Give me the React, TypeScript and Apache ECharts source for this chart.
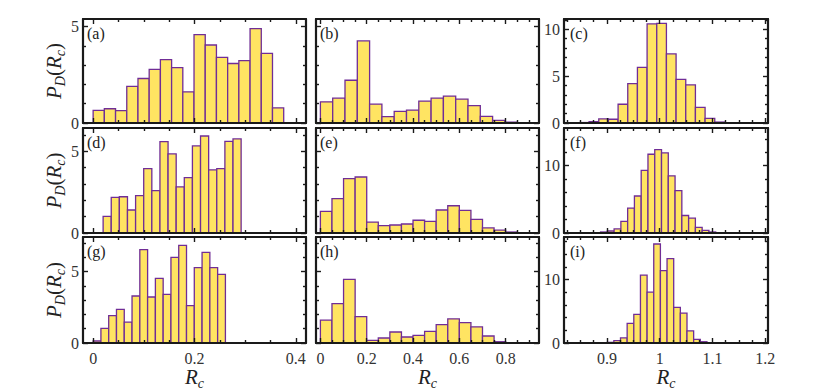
import React, { useEffect, useRef } from 'react';
import * as echarts from 'echarts';

// ---- data (bar heights), bin ranges [first edge, last edge]
const valsA = [0.66, 0.74, 0.64, 1.9, 2.31, 2.78, 3.29, 2.88, 1.62, 4.59, 4.05, 3.41, 3.09, 3.24, 4.9, 3.62, 0.79];
const rangeA = [0, 0.376];
const valsB = [1.1, 1.29, 2.22, 4.26, 0.98, 0.33, 0.6, 0.67, 1.14, 1.29, 1.4, 1.24, 0.9, 0.34, 0.14, 0.04, 0.01];
const rangeB = [0, 0.903];
const valsC = [0.05, 0.15, 0.43, 0.4, 2.0, 4.2, 5.94, 10.57, 10.64, 7.37, 4.66, 4.06, 1.67, 0.5, 0.1];
const rangeC = [0.848, 1.1225];
const valsD = [1.02, 2.18, 2.22, 1.41, 2.29, 3.94, 2.59, 5.59, 4.84, 2.82, 3.39, 5.33, 5.94, 3.86, 3.94, 5.61, 5.76];
const rangeD = [0.0197, 0.292];
const valsE = [1.33, 2.1, 3.33, 3.43, 0.67, 0.45, 0.49, 0.55, 0.78, 0.71, 1.41, 1.67, 1.39, 0.84, 0.31, 0.18, 0.06];
const rangeE = [0, 0.85];
const valsF = [0.15, 0.3, 0.6, 1.73, 3.7, 5.5, 9.3, 11.7, 12.4, 11.9, 8.5, 6.3, 2.6, 2.2, 0.84, 0.4, 0.15];
const rangeF = [0.888, 1.106];
const valsG = [0.14, 1.03, 1.92, 2.35, 1.46, 3.29, 6.53, 3.22, 4.53, 3.4, 5.99, 6.83, 2.61, 5.28, 6.34, 5.28, 4.81];
const rangeG = [0, 0.261];
const valsH = [1.6, 2.75, 4.46, 1.85, 0.19, 0.35, 0.77, 0.42, 0.54, 0.82, 1.29, 1.69, 1.43, 1.13, 0.49, 0.09, 0.02];
const rangeH = [0, 0.85];
const valsI = [0.05, 0.1, 0.37, 0.8, 3.1, 4.5, 10.7, 8.0, 15.6, 11.4, 13.3, 5.6, 4.7, 1.9, 0.58, 0.2, 0.05];
const rangeI = [0.888, 1.102];

const panelLabels = ['(a)', '(b)', '(c)', '(d)', '(e)', '(f)', '(g)', '(h)', '(i)'];

// axis extents
const xExtents = [[-0.02, 0.42], [-0.019, 0.944], [0.8188, 1.205]];
const yMaxRows = [[5.4, 5.4, 11.1], [6.43, 6.43, 15.6], [7.42, 7.42, 16.7]];

// tick values
const xMajor = [[0, 0.2, 0.4], [0, 0.2, 0.4, 0.6, 0.8], [0.9, 1, 1.1, 1.2]];
const xMinor = [
  [0.05, 0.1, 0.15, 0.25, 0.3, 0.35],
  [0.05, 0.1, 0.15, 0.25, 0.3, 0.35, 0.45, 0.5, 0.55, 0.65, 0.7, 0.75, 0.85, 0.9],
  [0.825, 0.85, 0.875, 0.925, 0.95, 0.975, 1.025, 1.05, 1.075, 1.125, 1.15, 1.175],
];
const yMajor = [
  [[0, 5], [0, 5], [0, 5, 10]],
  [[0, 5], [0, 5], [0, 10]],
  [[0, 5], [0, 5], [0, 10]],
];
const yMinor = [
  [[1, 2, 3, 4], [1, 2, 3, 4], [1, 2, 3, 4, 6, 7, 8, 9, 11]],
  [[1, 2, 3, 4, 6], [1, 2, 3, 4, 6], [2, 4, 6, 8, 12, 14]],
  [[1, 2, 3, 4, 6, 7], [1, 2, 3, 4, 6, 7], [2, 4, 6, 8, 12, 14, 16]],
];

const allVals = [valsA, valsB, valsC, valsD, valsE, valsF, valsG, valsH, valsI];
const allRanges = [rangeA, rangeB, rangeC, rangeD, rangeE, rangeF, rangeG, rangeH, rangeI];

// layout
const colBoxes = [{ left: 83, width: 223 }, { left: 316, width: 223 }, { left: 564, width: 204 }];
const rowBoxes = [{ top: 19, height: 104 }, { top: 128, height: 105 }, { top: 237, height: 106 }];

const FONT = 'Liberation Serif, DejaVu Serif, serif';
const FRAME = '#1a1a1a';
const FILL = '#FFE462';
const EDGE = '#702D96';

function fmt(v: number) {
  return String(parseFloat(Number(v).toFixed(3)));
}

function buildOption() {
  const grid: any[] = [];
  const xAxis: any[] = [];
  const yAxis: any[] = [];
  const series: any[] = [];
  const graphic: any[] = [];

  const rich = {
    i: { fontFamily: FONT, fontStyle: 'italic', fontSize: 21, color: '#222', lineHeight: 26, verticalAlign: 'middle' },
    n: { fontFamily: FONT, fontSize: 21, color: '#222', lineHeight: 26, verticalAlign: 'middle' },
    s: { fontFamily: FONT, fontStyle: 'italic', fontSize: 14, color: '#222', lineHeight: 14, verticalAlign: 'bottom' },
  };

  for (let r = 0; r < 3; r++) {
    for (let c = 0; c < 3; c++) {
      const g = r * 3 + c;
      grid.push({
        left: colBoxes[c].left,
        width: colBoxes[c].width,
        top: rowBoxes[r].top,
        height: rowBoxes[r].height,
        containLabel: false,
        outerBoundsMode: 'none',
        show: false,
      });
      const [xmin, xmax] = xExtents[c];
      const ymax = yMaxRows[r][c];
      const xBase = xAxis.length;
      const yBase = yAxis.length;
      const mkX = (pos: string, major: boolean) => {
        const isLabelAxis = major && pos === 'bottom' && r === 2;
        return {
          gridIndex: g,
          type: 'value',
          min: xmin,
          max: xmax,
          position: pos,
          z: 10,
          splitLine: { show: false },
          axisLine: { show: major, onZero: false, lineStyle: { color: FRAME, width: 2.2 } },
          axisTick: {
            show: true,
            inside: true,
            length: major ? 5 : 3,
            customValues: major ? xMajor[c] : xMinor[c],
            lineStyle: { color: FRAME, width: 1.4 },
          },
          axisLabel: {
            show: isLabelAxis,
            customValues: xMajor[c],
            formatter: (v: number) => fmt(v),
            fontFamily: FONT,
            fontSize: 16,
            color: '#333',
            margin: 7,
          },
          name: isLabelAxis ? '{i|R}{s|c}' : '',
          nameLocation: 'middle',
          nameGap: 14,
          nameTextStyle: { rich },
        };
      };
      xAxis.push(mkX('bottom', true), mkX('bottom', false), mkX('top', true), mkX('top', false));
      const mkY = (pos: string, major: boolean) => {
        const isLabelAxis = major && pos === 'left' && c !== 1;
        const isNameAxis = major && pos === 'left' && c === 0;
        return {
          gridIndex: g,
          type: 'value',
          min: 0,
          max: ymax,
          position: pos,
          z: 10,
          splitLine: { show: false },
          axisLine: { show: major, onZero: false, lineStyle: { color: FRAME, width: 2.2 } },
          axisTick: {
            show: true,
            inside: true,
            length: major ? 5 : 3,
            customValues: major ? yMajor[r][c] : yMinor[r][c],
            lineStyle: { color: FRAME, width: 1.4 },
          },
          axisLabel: {
            show: isLabelAxis,
            customValues: yMajor[r][c],
            formatter: (v: number) => fmt(v),
            fontFamily: FONT,
            fontSize: 16,
            color: '#333',
            margin: 4,
          },
          name: isNameAxis ? '{i|P}{s|D}{n|(}{i|R}{s|c}{n|)}' : '',
          nameLocation: 'middle',
          nameGap: 16,
          nameRotate: 90,
          nameTextStyle: { rich },
        };
      };
      yAxis.push(mkY('left', true), mkY('left', false), mkY('right', true), mkY('right', false));

      const vals = allVals[g];
      const [e0, e1] = allRanges[g];
      const w = (e1 - e0) / vals.length;
      const data = vals.map((v, i) => [e0 + i * w, e0 + (i + 1) * w, v]);
      series.push({
        type: 'custom',
        xAxisIndex: xBase,
        yAxisIndex: yBase,
        data,
        z: 2,
        silent: true,
        clip: true,
        renderItem: (_params: any, api: any) => {
          const p0 = api.coord([api.value(0), 0]);
          const p1 = api.coord([api.value(1), api.value(2)]);
          return {
            type: 'rect',
            shape: { x: p0[0], y: p1[1], width: p1[0] - p0[0], height: p0[1] - p1[1] },
            style: { fill: FILL, stroke: EDGE, lineWidth: 1.3 },
          };
        },
      });

      graphic.push({
        type: 'text',
        left: colBoxes[c].left + (c === 2 ? 6 : 4),
        top: rowBoxes[r].top + 6,
        z: 20,
        style: { text: panelLabels[g], font: `16px ${FONT}`, fill: '#222' },
      });
    }
  }

  return { animation: false, backgroundColor: '#ffffff', grid, xAxis, yAxis, series, graphic };
}

export default function App() {
  const ref = useRef<HTMLDivElement>(null);
  useEffect(() => {
    if (!ref.current) return;
    const chart = echarts.init(ref.current, undefined, { renderer: 'svg' });
    chart.setOption(buildOption() as any);
    return () => chart.dispose();
  }, []);
  return (
    <div
      ref={ref}
      style={{ position: 'fixed', left: 0, top: 0, width: 830, height: 390, background: '#fff' }}
    />
  );
}
